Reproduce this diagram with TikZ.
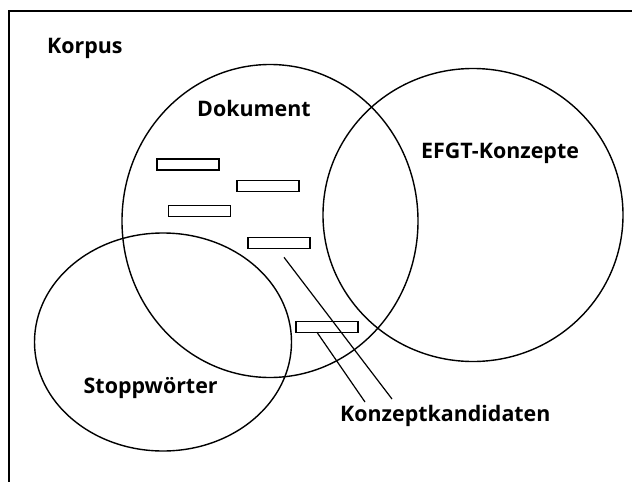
\documentclass[tikz,border=0pt]{standalone}
\usepackage{fontspec}
\setmainfont{Open Sans}
\usetikzlibrary{positioning,shapes.geometric,calc}
\tikzset{
  blob/.style={ellipse, draw=black, line width=1.4pt, inner sep=0pt},
  wordbox/.style={rectangle, draw=black, line width=1.6pt, inner sep=0pt,
    minimum width=62pt, minimum height=11pt},
  lbl/.style={anchor=base west, inner sep=0pt, font=\bfseries\fontsize{21.4}{25}\selectfont},
  link/.style={line width=1.2pt},
  frame/.style={line width=2pt},
}
\begin{document}
\begin{tikzpicture}[x=1pt, y=-1pt]
  \useasboundingbox (0,0) rectangle (632,482);
  \draw[frame] (9,482) -- (9,11) -- (632,11);
  % sets
  \node[blob, minimum width=296pt, minimum height=313pt] (dok) at (270,221) {};
  \node[blob, minimum width=300pt, minimum height=293pt] (efgt) at (473,215) {};
  \node[blob, minimum width=257pt, minimum height=218pt] (stop) at (163,342) {};
  % words of the document
  \node[wordbox] (w1) at (188,164.5) {};
  \node[wordbox] (w2) at (268,186) {};
  \node[wordbox] (w3) at (199.5,211) {};
  \node[wordbox] (w4) at (279,243) {};
  \node[wordbox] (w5) at (327,327) {};
  % labels
  \node[lbl] (korpus) at (47,53) {Korpus};
  \node[lbl] (doklbl) at (197,116.5) {Dokument};
  \node[lbl] (efgtlbl) at (421,158) {EFGT-Konzepte};
  \node[lbl] (stoplbl) at (83.5,393) {Stoppwörter};
  \node[lbl] (kand) at (340,421.5) {Konzeptkandidaten};
  % pointers
  \coordinate (p4) at ($(w4.south)+(5,8)$);
  \coordinate (p5) at ($(w5.south)+(-10,-1)$);
  \coordinate (e4) at (392,399);
  \coordinate (e5) at (365,402);
  \draw[link] (p4) -- (e4);
  \draw[link] (p5) -- (e5);
\end{tikzpicture}
\end{document}
